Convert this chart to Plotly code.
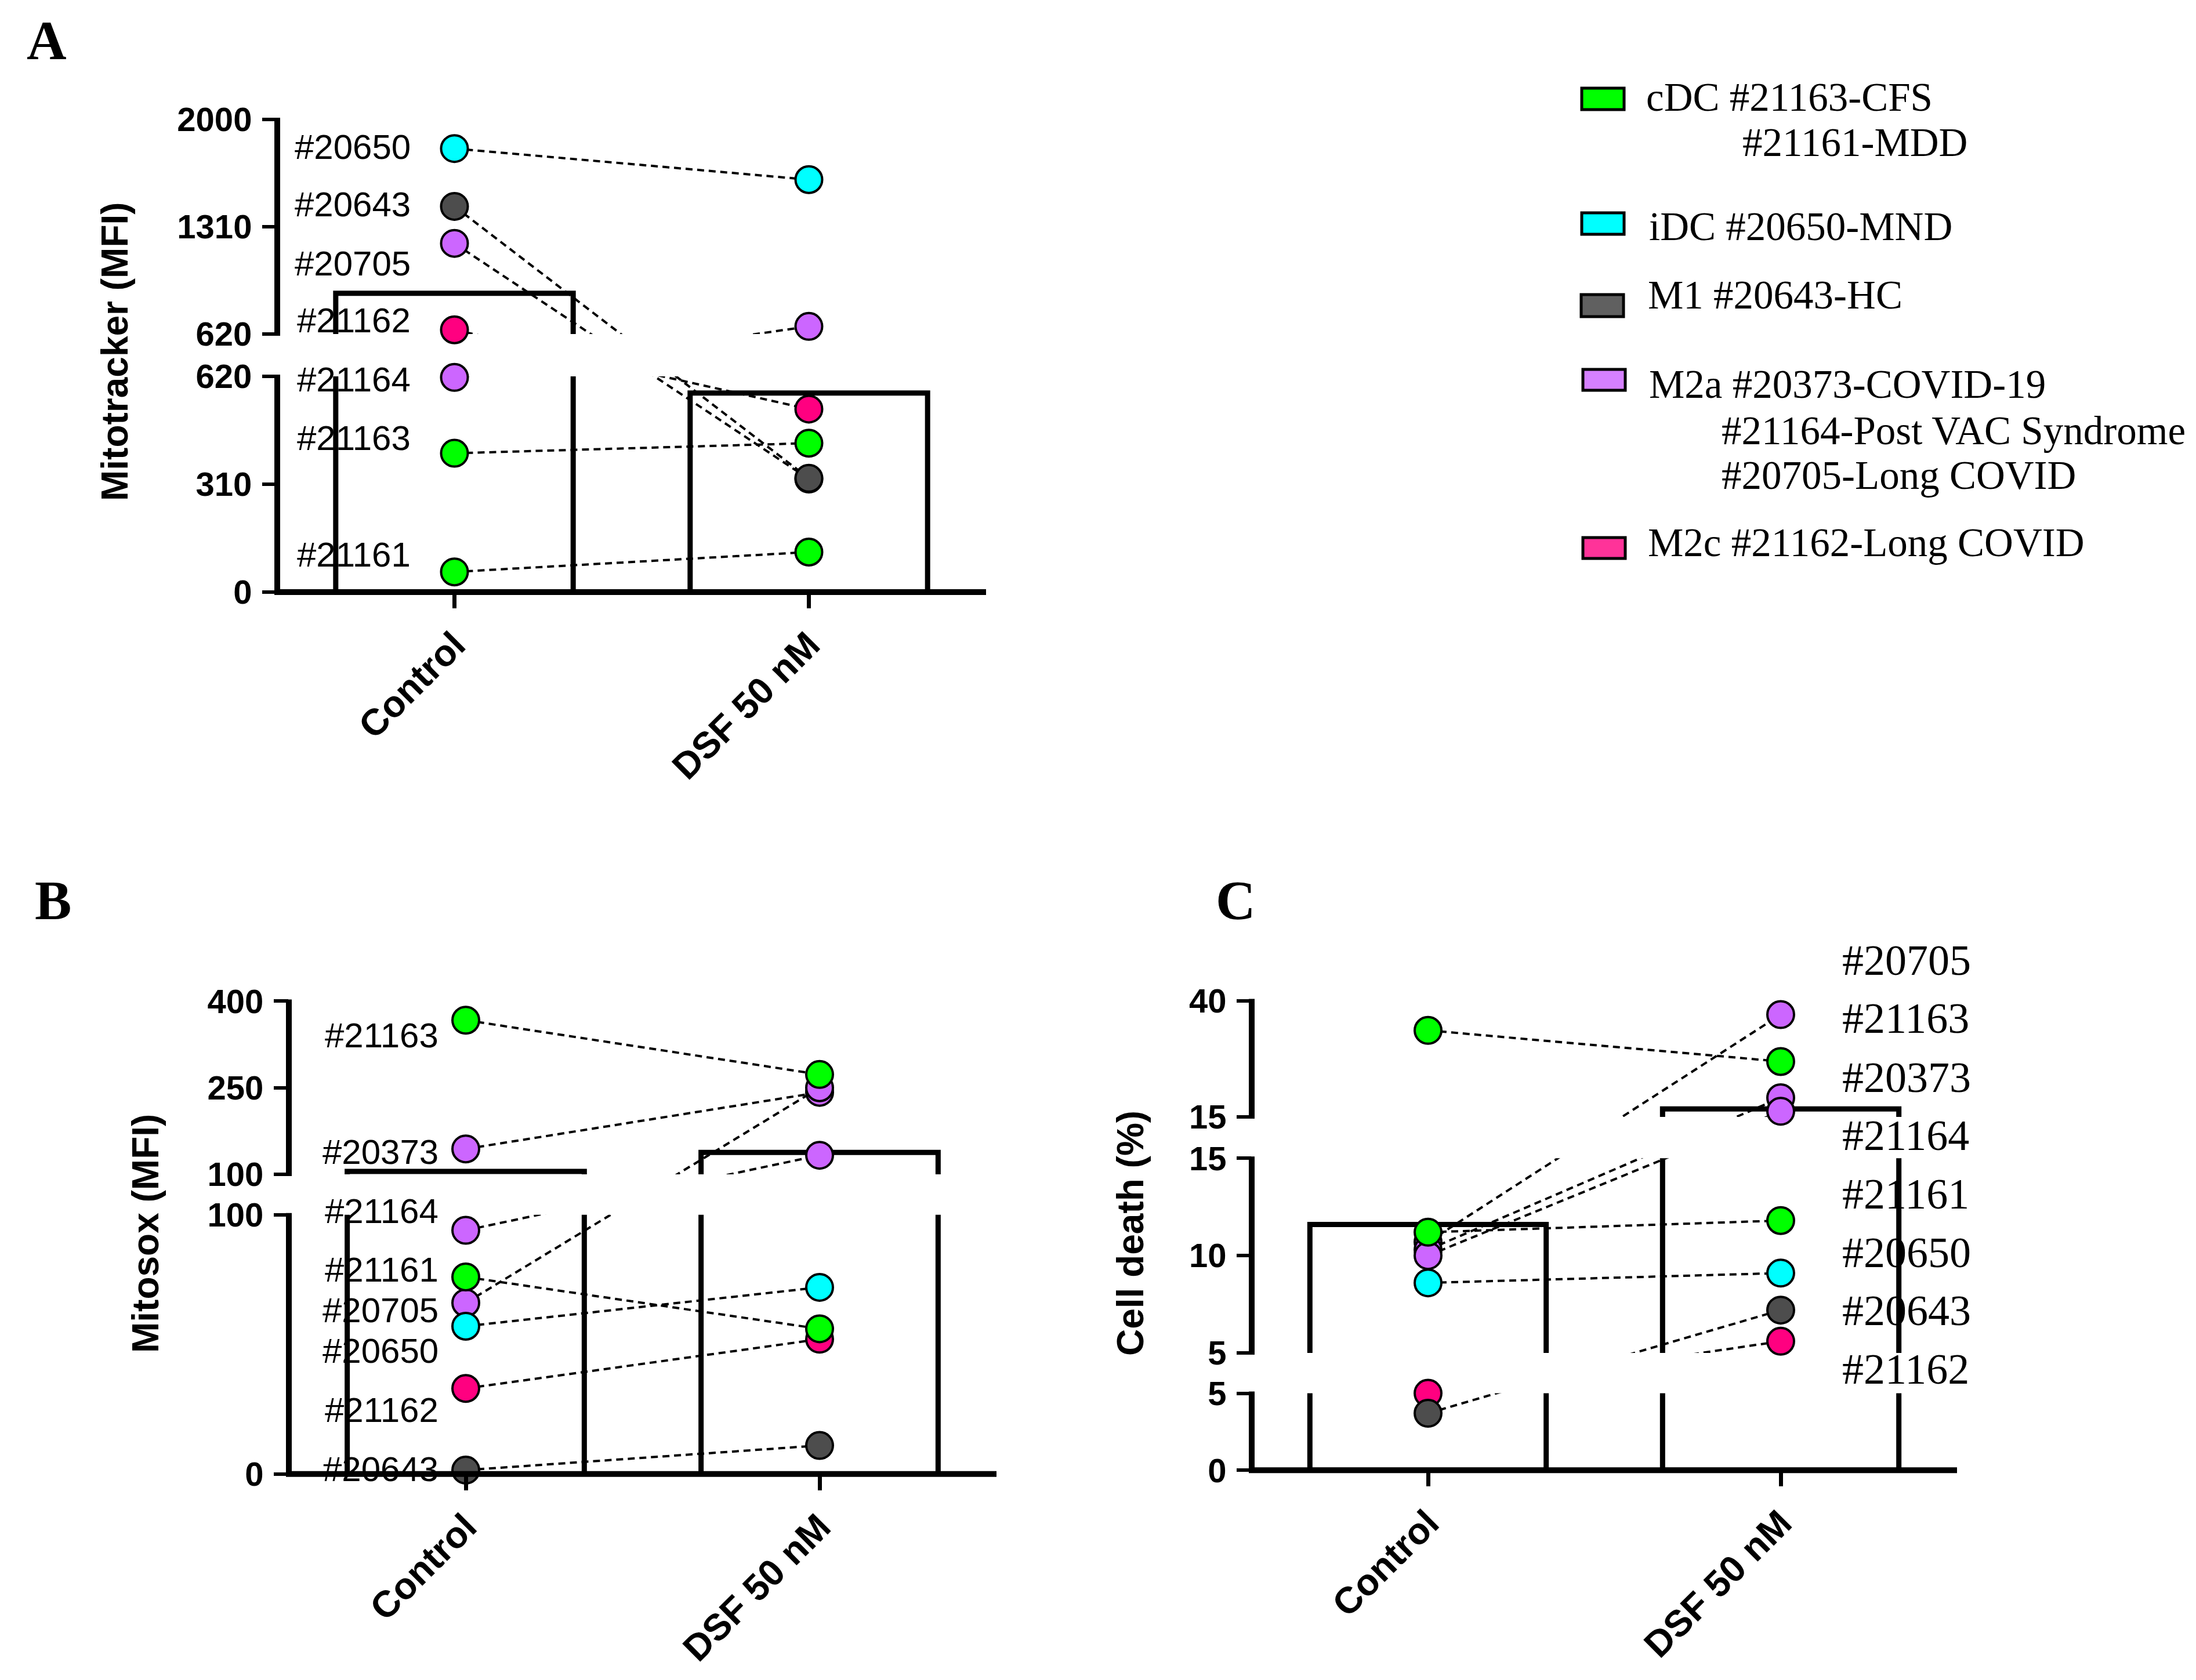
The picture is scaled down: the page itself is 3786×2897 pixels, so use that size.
import plotly.graph_objects as go

W, H = 3786, 2897

# ---------------- data ----------------
categories = ["Control", "DSF 50 nM"]

# Panel A - Mitotracker (MFI)
samples_A = ["#20650", "#20643", "#20705", "#21162", "#21164", "#21163", "#21161"]
control_A = [1813, 1441, 1203, 647, 617, 399, 58]
dsf_A = [1613, 327, 325, 526, 669, 428, 115]
bar_A = [882, 572]
ticks_A = [[0, 310, 620], [620, 1310, 2000]]

# Panel B - Mitosox (MFI)
samples_B = ["#21163", "#20373", "#21164", "#21161", "#20705", "#20650", "#21162", "#20643"]
control_B = [367, 144, 94, 76, 66, 57, 33, 1.5]
dsf_B = [273, 242, 133, 56, 250, 72, 52, 11]
bar_B = [105, 138]
ticks_B = [[0, 100], [100, 250, 400]]

# Panel C - Cell death (%)
samples_C = ["#20705", "#21163", "#20373", "#21164", "#21161", "#20650", "#20643", "#21162"]
control_C = [10.7, 33.6, 10.3, 10.0, 11.2, 8.6, 3.7, 5.0]
dsf_C = [37.0, 26.9, 19.1, 16.2, 11.8, 9.1, 7.2, 5.6]
bar_C = [11.6, 16.7]
ticks_C = [[0, 5], [5, 10, 15], [15, 40]]

groups = ["cDC", "iDC", "M1", "M2a", "M2c"]
group_members = {
    "cDC": ["#21163", "#21161"],
    "iDC": ["#20650"],
    "M1": ["#20643"],
    "M2a": ["#20373", "#21164", "#20705"],
    "M2c": ["#21162"],
}
legend_lines = {
    "cDC": ["cDC #21163-CFS", "#21161-MDD"],
    "iDC": ["iDC #20650-MND"],
    "M1": ["M1 #20643-HC"],
    "M2a": ["M2a #20373-COVID-19", "#21164-Post VAC Syndrome", "#20705-Long COVID"],
    "M2c": ["M2c #21162-Long COVID"],
}

# ---------------- style ----------------
SANS = "Liberation Sans, Arial, sans-serif"
SERIF = "Liberation Serif, Times New Roman, serif"
dot_color = {"cDC": "#00FF00", "iDC": "#00FFFF", "M1": "#4D4D4D", "M2a": "#CC66FF", "M2c": "#FF0080"}
swatch_color = {"cDC": "#00FF00", "iDC": "#00FFFF", "M1": "#606060", "M2a": "#D580FF", "M2c": "#FF3399"}
draw_order = ["M2a", "M2c", "iDC", "M1", "cDC"]
sample_group = {s: g for g, ms in group_members.items() for s in ms}

OFF_X, OFF_Y = 2, 8  # page offset compensation (px)

panels = [
    dict(letter="A", letter_xy=(74, 70), samples=samples_A, ctrl=control_A, dsf=dsf_A,
         bars=bar_A, ticks=ticks_A,
         segs=[(0, 620, 1021, 649), (620, 2000, 576, 206)], x0=472, x1=1694,
         title="Mitotracker (MFI)", title_xy=(192, 606),
         lab_x=704, lab_anchor="right", lab_font=(SANS, 60),
         lab_y=[254, 353, 454, 553, 655, 756, 957]),
    dict(letter="B", letter_xy=(85, 1553), samples=samples_B, ctrl=control_B, dsf=dsf_B,
         bars=bar_B, ticks=ticks_B,
         segs=[(0, 100, 2541.8, 2094.7), (100, 400, 2025, 1726.4)], x0=492, x1=1712,
         title="Mitosox (MFI)", title_xy=(245, 2127),
         lab_x=752, lab_anchor="right", lab_font=(SANS, 60),
         lab_y=[1786, 1986, 2088, 2189, 2259, 2329, 2431, 2533]),
    dict(letter="C", letter_xy=(2124, 1553), samples=samples_C, ctrl=control_C, dsf=dsf_C,
         bars=bar_C, ticks=ticks_C,
         segs=[(0, 5, 2535.3, 2402.6), (5, 15, 2333, 1997.3), (15, 40, 1925.9, 1725.5)],
         x0=2152, x1=3368,
         title="Cell death (%)", title_xy=(1943, 2127),
         lab_x=3168, lab_anchor="left", lab_font=(SERIF, 74),
         lab_y=[1656, 1756, 1858, 1958, 2059, 2160, 2260, 2361]),
]


def pxx(p):
    return (p - OFF_X) / W


def pxy(p):
    return 1 - (p - OFF_Y) / H


fig = go.Figure()
shapes = []
annotations = []
layout_axes = {}

for k, P in enumerate(panels):
    xa = "x" if k == 0 else f"x{k + 1}"
    ya = "y" if k == 0 else f"y{k + 1}"
    segs = P["segs"]
    bottom = segs[0][2]
    top = segs[-1][3]

    def seg_t(v, i, segs=segs, bottom=bottom):
        vl, vh, pl, ph = segs[i]
        return bottom - (pl + (v - vl) * (ph - pl) / (vh - vl))

    def t_of(v, segs=segs):
        for i, (vl, vh, pl, ph) in enumerate(segs):
            if v <= vh or i == len(segs) - 1:
                return seg_t(v, i)

    # bars (mean)
    fig.add_trace(go.Bar(
        x=[0, 1], y=[t_of(b) for b in P["bars"]], width=0.67,
        marker=dict(color="white", line=dict(color="black", width=9)),
        xaxis=xa, yaxis=ya, hoverinfo="skip"))

    # paired dashed lines
    for s, c, d in zip(P["samples"], P["ctrl"], P["dsf"]):
        fig.add_trace(go.Scatter(
            x=[0, 1], y=[t_of(c), t_of(d)], mode="lines",
            line=dict(color="black", width=4, dash="12px,8px"),
            xaxis=xa, yaxis=ya, cliponaxis=False, hoverinfo="skip"))

    # white gap bands of the broken axis
    for i in range(len(segs) - 1):
        g0 = bottom - segs[i][3]
        g1 = bottom - segs[i + 1][2]
        fig.add_trace(go.Scatter(
            x=[-0.5, 1.5, 1.5, -0.5, -0.5], y=[g0, g0, g1, g1, g0],
            mode="none", fill="toself", fillcolor="white",
            xaxis=xa, yaxis=ya, hoverinfo="skip"))

    # dots
    for grp in draw_order:
        for s, c, d in zip(P["samples"], P["ctrl"], P["dsf"]):
            if sample_group[s] != grp:
                continue
            fig.add_trace(go.Scatter(
                x=[0, 1], y=[t_of(c), t_of(d)], mode="markers",
                marker=dict(size=46, color=dot_color[grp], line=dict(color="black", width=4)),
                xaxis=xa, yaxis=ya, cliponaxis=False, name=s))

    # ticks
    tv, tt = [], []
    for i, tl in enumerate(P["ticks"]):
        for v in tl:
            tv.append(seg_t(v, i))
            tt.append(str(v))

    layout_axes["xaxis" if k == 0 else f"xaxis{k + 1}"] = dict(
        domain=[pxx(P["x0"]), pxx(P["x1"])], range=[-0.5, 1.5], anchor=ya,
        automargin=False, showline=False, showgrid=False, zeroline=False,
        tickmode="array", tickvals=[0, 1], ticktext=categories,
        ticks="outside", ticklen=27, tickwidth=7, tickcolor="black", tickangle=-45,
        tickfont=dict(family=SANS, size=64, color="black", weight="bold"))
    layout_axes["yaxis" if k == 0 else f"yaxis{k + 1}"] = dict(
        domain=[pxy(bottom), pxy(top)], range=[0, bottom - top], anchor=xa,
        automargin=False, showline=False, showgrid=False, zeroline=False,
        tickmode="array", tickvals=tv, ticktext=tt,
        ticks="outside", ticklen=25, tickwidth=6, tickcolor="black",
        ticklabelstandoff=6,
        tickfont=dict(family=SANS, size=58, color="black", weight="bold"))

    # axis lines
    shapes.append(dict(type="line", xref="paper", yref="paper",
                       x0=pxx(P["x0"] - 5), x1=pxx(P["x1"]), y0=pxy(bottom), y1=pxy(bottom),
                       line=dict(color="black", width=10), layer="above"))
    for (vl, vh, pl, ph) in segs:
        shapes.append(dict(type="line", xref="paper", yref="paper",
                           x0=pxx(P["x0"]), x1=pxx(P["x0"]), y0=pxy(pl + 3), y1=pxy(ph - 3),
                           line=dict(color="black", width=10), layer="above"))

    # titles / letters / sample labels
    annotations.append(dict(text=P["title"], x=pxx(P["title_xy"][0]), y=pxy(P["title_xy"][1]),
                            xref="paper", yref="paper", showarrow=False, textangle=-90,
                            xanchor="center", yanchor="middle",
                            font=dict(family=SANS, size=64, color="black", weight="bold")))
    annotations.append(dict(text=P["letter"], x=pxx(P["letter_xy"][0]), y=pxy(P["letter_xy"][1]),
                            xref="paper", yref="paper", showarrow=False,
                            xanchor="center", yanchor="middle",
                            font=dict(family=SERIF, size=95, color="black", weight="bold")))
    for s, yy in zip(P["samples"], P["lab_y"]):
        annotations.append(dict(text=s, x=pxx(P["lab_x"]), y=pxy(yy), xref="paper", yref="paper",
                                showarrow=False, xanchor=P["lab_anchor"], yanchor="middle",
                                font=dict(family=P["lab_font"][0], size=P["lab_font"][1], color="black")))

# ---------------- legend ----------------
legend_pos = {
    "cDC": dict(sw=(2721, 2794, 152, 189), lines=[(2830, 168), (2996, 246)]),
    "iDC": dict(sw=(2721, 2794, 367, 404), lines=[(2835, 391)]),
    "M1": dict(sw=(2720, 2793, 508, 546), lines=[(2833, 509)]),
    "M2a": dict(sw=(2723, 2796, 637, 673), lines=[(2835, 663), (2960, 743), (2960, 820)]),
    "M2c": dict(sw=(2723, 2796, 927, 963), lines=[(2833, 936)]),
}
for g in groups:
    x0, x1, y0, y1 = legend_pos[g]["sw"]
    shapes.append(dict(type="rect", xref="paper", yref="paper",
                       x0=pxx(x0), x1=pxx(x1), y0=pxy(y1), y1=pxy(y0),
                       fillcolor=swatch_color[g], line=dict(color="black", width=5), layer="above"))
    for txt, (lx, ly) in zip(legend_lines[g], legend_pos[g]["lines"]):
        annotations.append(dict(text=txt, x=pxx(lx), y=pxy(ly), xref="paper", yref="paper",
                                showarrow=False, xanchor="left", yanchor="middle",
                                font=dict(family=SERIF, size=69, color="black")))

fig.update_layout(
    width=W, height=H, margin=dict(l=0, r=0, t=0, b=0, autoexpand=False),
    paper_bgcolor="white", plot_bgcolor="white", showlegend=False,
    shapes=shapes, annotations=annotations, **layout_axes)

fig.write_html("out.html")
